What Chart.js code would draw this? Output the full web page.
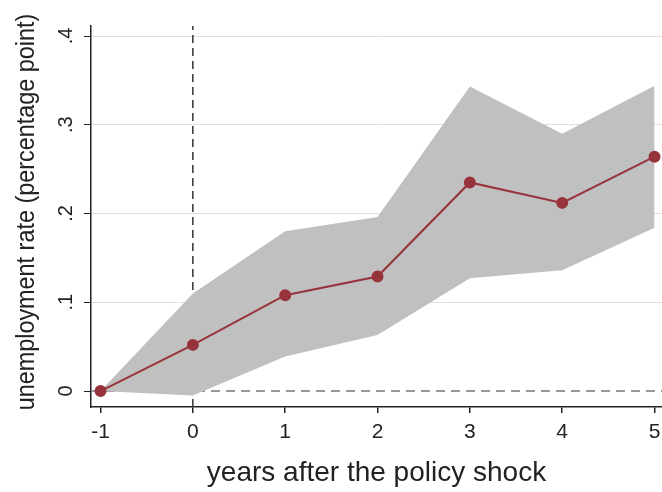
<!DOCTYPE html>
<html>
<head>
<meta charset="utf-8">
<script src="https://cdn.jsdelivr.net/npm/chart.js@4"></script>
<style>
  html, body { margin: 0; padding: 0; background: #fff; }
</style>
</head>
<body>
<canvas id="c" width="662" height="492"></canvas>
<script>
const years = [-1, 0, 1, 2, 3, 4, 5];
const estimate = [0, 0.052, 0.108, 0.129, 0.235, 0.212, 0.264];
const ciUpper = [0, 0.110, 0.180, 0.196, 0.343, 0.290, 0.344];
const ciLower = [0, -0.005, 0.039, 0.063, 0.127, 0.136, 0.184];
const xTickValues = [-1, 0, 1, 2, 3, 4, 5];
const yTickValues = [0, 0.1, 0.2, 0.3, 0.4];
const yTickLabels = ['0', '.1', '.2', '.3', '.4'];
const yTitle = 'unemployment rate (percentage point)';
const xTitle = 'years after the policy shock';

const FONT = '"Liberation Sans", Arial, Helvetica, sans-serif';
const X_MIN = -1.103, X_MAX = 5.081, Y_MIN = -0.018, Y_MAX = 0.4113;

const pts = arr => years.map((x, i) => ({ x: x, y: arr[i] }));

// rotated y tick labels and y title, Stata style
const yLabels = {
    id: 'yLabels',
    afterDraw(chart) {
        const ctx = chart.ctx;
        const y = chart.scales.y;
        ctx.save();
        ctx.font = '20px ' + FONT;
        ctx.fillStyle = '#222';
        ctx.textAlign = 'center';
        ctx.textBaseline = 'alphabetic';
        yTickValues.forEach((v, i) => {
            ctx.save();
            ctx.translate(72, y.getPixelForValue(v));
            ctx.rotate(-Math.PI / 2);
            ctx.fillText(yTickLabels[i], 0, 0);
            ctx.restore();
        });
        ctx.translate(34, 212);
        ctx.rotate(-Math.PI / 2);
        ctx.scale(0.9, 1);
        ctx.font = '26px ' + FONT;
        ctx.fillText(yTitle, 0, 0);
        ctx.restore();
    }
};

new Chart(document.getElementById('c'), {
    type: 'line',
    data: {
        datasets: [
            {
                // upper bound, filled down to lower bound
                data: pts(ciUpper),
                borderWidth: 0,
                pointRadius: 0,
                backgroundColor: '#c0c0c0',
                fill: '+1',
                order: 2
            },
            {
                data: pts(ciLower),
                borderWidth: 0,
                pointRadius: 0,
                fill: false,
                order: 2
            },
            {
                data: pts(estimate),
                borderColor: '#97333a',
                backgroundColor: '#97333a',
                borderWidth: 2,
                pointRadius: 5,
                pointHoverRadius: 5,
                fill: false,
                clip: false,
                order: 1
            },
            {
                // reference line at x = 0
                data: [{ x: 0, y: Y_MIN }, { x: 0, y: Y_MAX }],
                borderColor: '#333',
                borderWidth: 1.5,
                borderDash: [8, 5],
                pointRadius: 0,
                fill: false,
                order: 3
            },
            {
                // reference line at y = 0
                data: [{ x: X_MIN, y: 0 }, { x: X_MAX, y: 0 }],
                borderColor: '#777',
                borderWidth: 1.5,
                borderDash: [9, 6],
                pointRadius: 0,
                fill: false,
                order: 3
            }
        ]
    },
    options: {
        responsive: false,
        animation: false,
        layout: { autoPadding: false, padding: { top: 26, right: 0, left: 0, bottom: 0 } },
        plugins: {
            legend: { display: false },
            tooltip: { enabled: false }
        },
        scales: {
            x: {
                type: 'linear',
                min: X_MIN,
                max: X_MAX,
                afterBuildTicks: s => { s.ticks = xTickValues.map(v => ({ value: v })); },
                afterFit: s => { s.height = 85; s.paddingRight = 0; s.paddingLeft = 0; },
                grid: { drawOnChartArea: false, drawTicks: true, tickLength: 6, color: '#222', lineWidth: 1.5 },
                border: { display: true, color: '#222', width: 1.5 },
                ticks: { color: '#222', font: { family: FONT, size: 21 }, padding: 7, maxRotation: 0 },
                title: {
                    display: true,
                    text: xTitle,
                    color: '#222',
                    font: { family: FONT, size: 28 },
                    padding: { top: 0, bottom: 2 }
                }
            },
            y: {
                type: 'linear',
                min: Y_MIN,
                max: Y_MAX,
                afterBuildTicks: s => { s.ticks = yTickValues.map(v => ({ value: v })); },
                afterFit: s => { s.width = 91; },
                grid: {
                    color: c => (c.tick && c.tick.value === 0 ? 'rgba(0,0,0,0)' : '#eadcdd'),
                    tickColor: '#222',
                    tickLength: 7,
                    lineWidth: 1
                },
                border: { display: true, color: '#222', width: 1.5 },
                ticks: { display: false },
                title: { display: false }
            }
        }
    },
    plugins: [yLabels]
});
</script>
</body>
</html>
